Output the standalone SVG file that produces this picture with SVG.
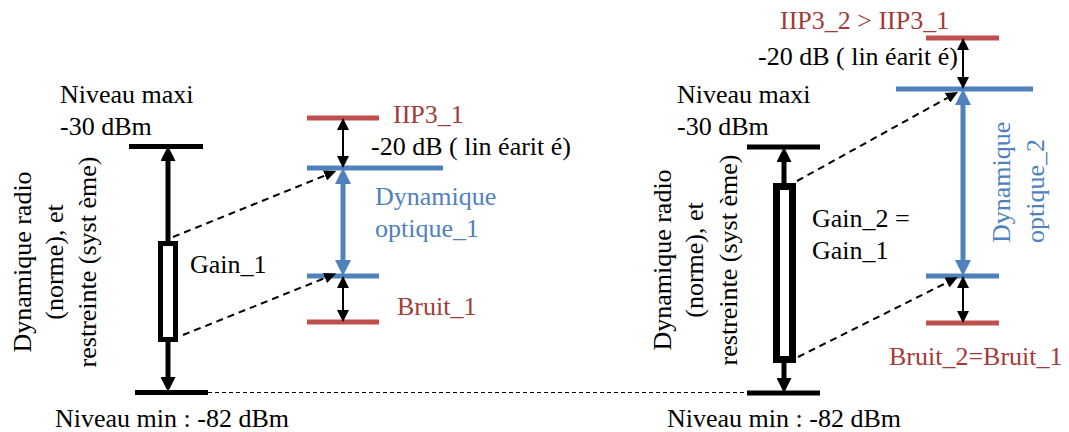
<svg xmlns="http://www.w3.org/2000/svg" width="1069" height="432" viewBox="0 0 1069 432">
<style>
text{font-family:'Liberation Serif','DejaVu Serif',serif;font-size:26px;fill:#000}
.red{fill:#A33B38}
.blue{fill:#4F81BD}
.bk{stroke:#000;stroke-width:5;fill:none}
.rb{stroke:#C0504D;stroke-width:5}
.bb{stroke:#4F81BD;stroke-width:5}
.thin{stroke:#000;stroke-width:2}
.dash{stroke:#000;stroke-width:2;stroke-dasharray:7,5;fill:none}
.dot{stroke:#000;stroke-width:1.2;stroke-dasharray:4,3}
</style>
<defs>
<marker id="ahK" markerUnits="userSpaceOnUse" viewBox="0 -7.5 15 15" refX="0" refY="0" markerWidth="15" markerHeight="15" orient="auto-start-reverse"><path d="M0,-7.5 L15,0 L0,7.5 z" fill="#000"/></marker>
<marker id="ahB" markerUnits="userSpaceOnUse" viewBox="0 -8 16 16" refX="0" refY="0" markerWidth="16" markerHeight="16" orient="auto-start-reverse"><path d="M0,-8 L16,0 L0,8 z" fill="#4F81BD"/></marker>
<marker id="ahT" markerUnits="userSpaceOnUse" viewBox="0 -6 12 12" refX="0" refY="0" markerWidth="12" markerHeight="12" orient="auto-start-reverse"><path d="M0,-6 L12,0 L0,6 z" fill="#000"/></marker>
<marker id="ahD" markerUnits="userSpaceOnUse" viewBox="0 -5.5 12 11" refX="0" refY="0" markerWidth="12" markerHeight="11" orient="auto"><path d="M0,-5.5 L12,0 L0,5.5 z" fill="#000"/></marker>
</defs>

<g id="left-radio" font-family="Liberation Serif, DejaVu Serif, serif">
<line class="bk" x1="129" y1="146.5" x2="203" y2="146.5"/>
<line class="bk" x1="135" y1="392.5" x2="208" y2="392.5"/>
<text x="60" y="103">Niveau maxi</text>
<text x="60" y="135">-30 dBm</text>
<text x="55" y="427">Niveau min : -82 dBm</text>
<text transform="translate(31,262) rotate(-90)" text-anchor="middle">Dynamique radio</text>
<text transform="translate(63,262) rotate(-90)" text-anchor="middle">(norme), et</text>
<text transform="translate(96,262) rotate(-90)" text-anchor="middle">restreinte (syst ème)</text>
</g>

<g id="left-gain">
<rect x="160.5" y="243.5" width="15" height="96" fill="#fff" stroke="#000" stroke-width="5"/>
<text x="190" y="273">Gain_1</text>
</g>

<g id="left-optique">
<line class="rb" x1="307" y1="118" x2="379" y2="118"/>
<line class="bb" x1="307" y1="168" x2="443" y2="168"/>
<line class="bb" x1="307" y1="276" x2="379" y2="276"/>
<line class="rb" x1="307" y1="322" x2="379" y2="322"/>
<text class="red" x="393" y="123">IIP3_1</text>
<text x="371" y="155">-20 dB ( lin éarit é)</text>
<text class="blue" x="375" y="205">Dynamique</text>
<text class="blue" x="375" y="237">optique_1</text>
<text class="red" x="397" y="315">Bruit_1</text>
</g>

<g id="right-radio">
<line class="bk" x1="747" y1="147" x2="820" y2="147"/>
<line class="bk" x1="747" y1="393" x2="820" y2="393"/>
<text x="677" y="103">Niveau maxi</text>
<text x="677" y="135">-30 dBm</text>
<text x="667" y="427">Niveau min : -82 dBm</text>
<text transform="translate(671,260) rotate(-90)" text-anchor="middle">Dynamique radio</text>
<text transform="translate(703,260) rotate(-90)" text-anchor="middle">(norme), et</text>
<text transform="translate(737,260) rotate(-90)" text-anchor="middle">restreinte (syst ème)</text>
</g>

<g id="right-gain">
<rect x="776.5" y="186.5" width="16" height="173" fill="#fff" stroke="#000" stroke-width="7"/>
<text x="812" y="227">Gain_2 =</text>
<text x="812" y="259">Gain_1</text>
</g>

<g id="right-optique">
<line class="rb" x1="926" y1="38" x2="999" y2="38"/>
<line class="bb" x1="896" y1="89" x2="1033" y2="89"/>
<line class="bb" x1="926" y1="276" x2="999" y2="276"/>
<line class="rb" x1="926" y1="323" x2="999" y2="323"/>
<text class="red" x="780" y="29">IIP3_2 &gt; IIP3_1</text>
<text x="758" y="65">-20 dB ( lin éarit é)</text>
<text class="blue" transform="translate(1010,243) rotate(-90)">Dynamique</text>
<text class="blue" transform="translate(1044,243) rotate(-90)">optique_2</text>
<text class="red" x="889" y="365">Bruit_2=Bruit_1</text>
</g>

<g id="connectors">
<line class="bk" x1="168" y1="161" x2="168" y2="243" marker-start="url(#ahK)"/>
<line class="bk" x1="168" y1="340" x2="168" y2="377" marker-end="url(#ahK)"/>
<line class="bb" x1="343" y1="184" x2="343" y2="260" marker-start="url(#ahB)" marker-end="url(#ahB)"/>
<line class="thin" x1="343" y1="130" x2="343" y2="156" marker-start="url(#ahT)" marker-end="url(#ahT)"/>
<line class="thin" x1="343" y1="288" x2="343" y2="310" marker-start="url(#ahT)" marker-end="url(#ahT)"/>
<line class="dash" x1="173" y1="237" x2="325" y2="175.5" marker-end="url(#ahD)"/>
<line class="dash" x1="183" y1="335" x2="325" y2="278" marker-end="url(#ahD)"/>
<line class="dot" x1="208" y1="392.5" x2="747" y2="392.5"/>

<line class="bk" x1="784" y1="162" x2="784" y2="186" marker-start="url(#ahK)"/>
<line class="bk" x1="784" y1="360" x2="784" y2="378" marker-end="url(#ahK)"/>
<line class="bb" x1="963" y1="105" x2="963" y2="260" marker-start="url(#ahB)" marker-end="url(#ahB)"/>
<line class="thin" x1="963" y1="50" x2="963" y2="77" marker-start="url(#ahT)" marker-end="url(#ahT)"/>
<line class="thin" x1="963" y1="288" x2="963" y2="311" marker-start="url(#ahT)" marker-end="url(#ahT)"/>
<line class="dash" x1="797" y1="181" x2="947.5" y2="97.8" marker-end="url(#ahD)"/>
<line class="dash" x1="798" y1="357" x2="947" y2="282.5" marker-end="url(#ahD)"/>
</g>
</svg>
